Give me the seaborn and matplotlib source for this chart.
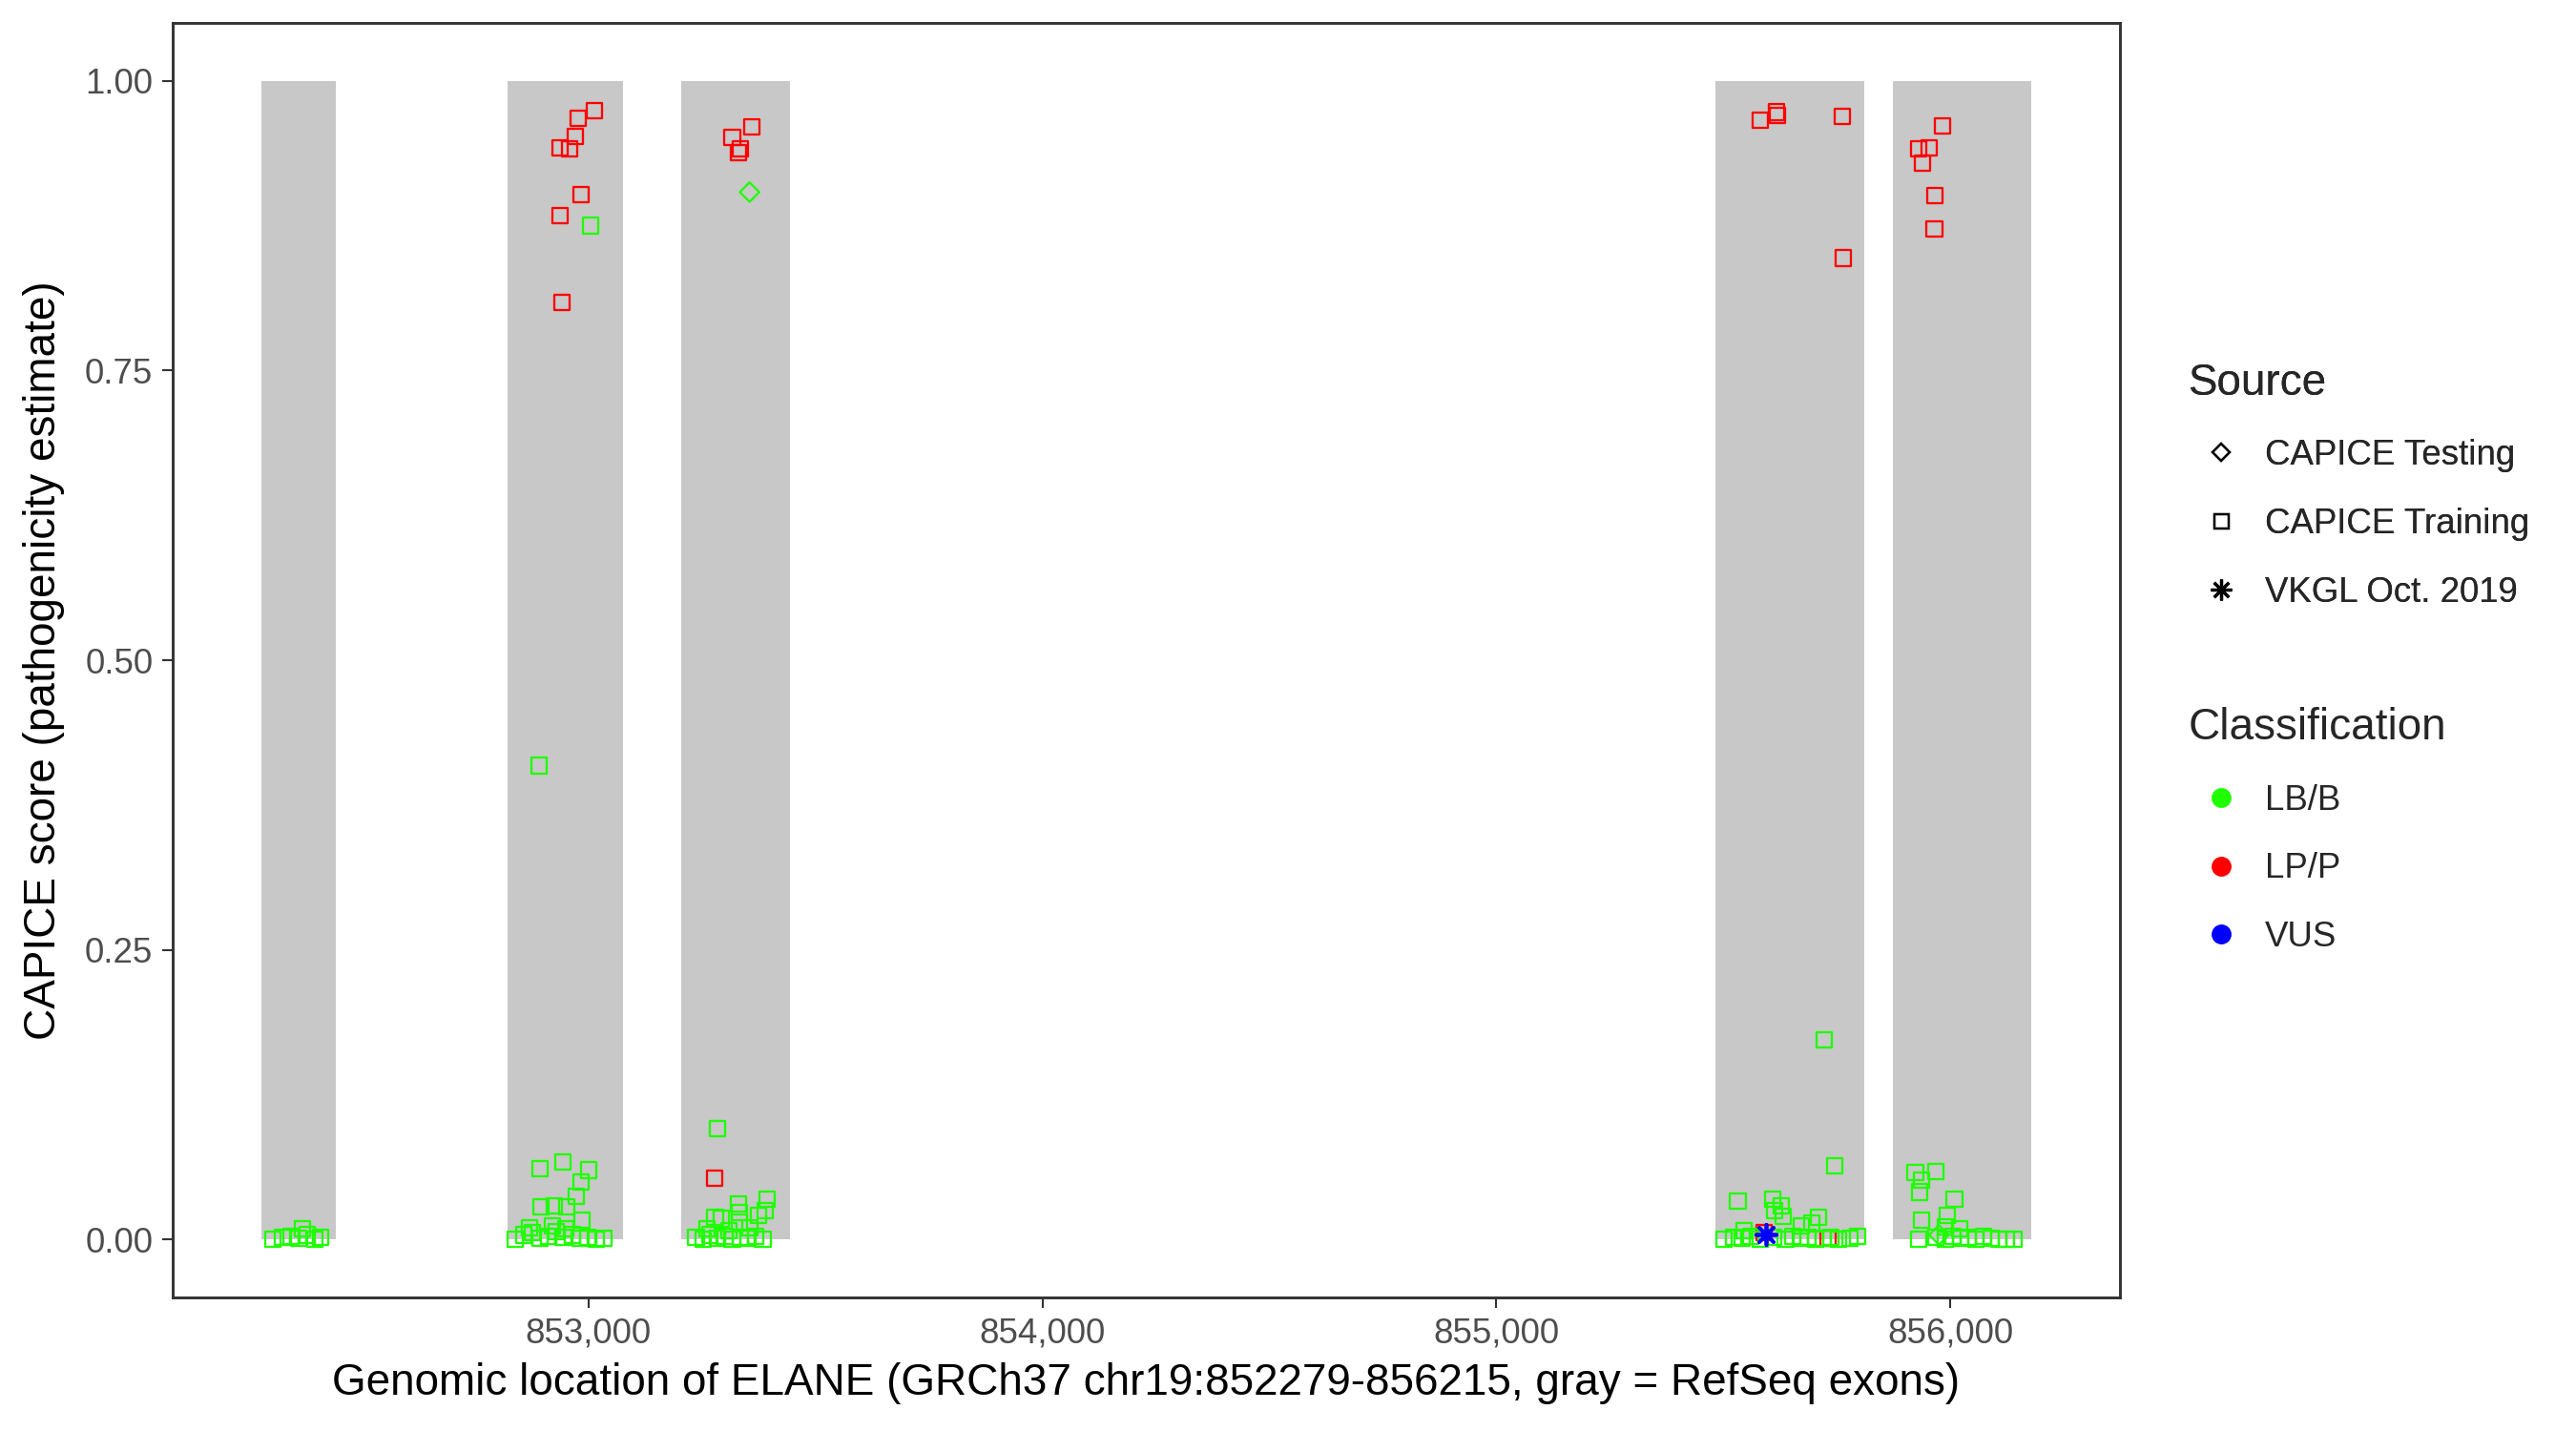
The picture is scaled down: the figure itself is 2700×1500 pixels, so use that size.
import matplotlib
matplotlib.use("Agg")
import matplotlib.pyplot as plt
from matplotlib.lines import Line2D
from matplotlib.ticker import FuncFormatter
import seaborn as sns
import pandas as pd

# ---------------- data ----------------
exon_start = [852279, 852821, 853204, 855483, 855874]
exon_end = [852443, 853076, 853443, 855811, 856179]

# CAPICE Training, LP/P
lp_pos = [853013, 852977, 852971, 852938, 852958, 852983, 852938, 852941,
          853360, 853317, 853335, 853331, 853278,
          855581, 855617, 855619, 855762, 855765, 855590, 855731,
          855983, 855930, 855953, 855939, 855966, 855965]
lp_score = [0.974, 0.968, 0.952, 0.942, 0.941, 0.902, 0.884, 0.809,
            0.960, 0.951, 0.941, 0.938, 0.053,
            0.966, 0.973, 0.970, 0.969, 0.847, 0.006, 0.001,
            0.961, 0.941, 0.942, 0.929, 0.901, 0.872]

# CAPICE Training, LB/B
lb_pos = [852305, 852326, 852345, 852361, 852370, 852380, 852397, 852410,
          853005, 852891, 852893, 852943, 853001, 852983, 852973, 852895, 852925,
          852952, 852986, 852838, 852857, 852876, 852893, 852912, 852929, 852945,
          852964, 852981, 852998, 853017, 853034, 852870, 852920, 852950,
          853284, 853331, 853393, 853389, 853375, 853333, 853279, 853293, 853332,
          853237, 853252, 853267, 853284, 853300, 853317, 853334, 853351, 853368,
          853384, 853262, 853310, 853356,
          855723, 855746, 855532, 855608, 855628, 855613, 855631, 855709, 855695,
          855545, 855671, 855502, 855523, 855542, 855561, 855582, 855611, 855637,
          855653, 855670, 855687, 855704, 855721, 855737, 855754, 855779, 855796,
          855923, 855968, 855937, 855933, 856009, 855936, 855994, 855989, 856020,
          855931, 855968, 855989, 856006, 856023, 856040, 856057, 856074, 856090,
          856107, 856124, 856141]
lb_score = [0.000, 0.002, 0.003, 0.001, 0.009, 0.004, 0.000, 0.002,
            0.875, 0.409, 0.061, 0.067, 0.060, 0.050, 0.037, 0.028, 0.029,
            0.028, 0.017, 0.000, 0.004, 0.006, 0.001, 0.003, 0.007, 0.002,
            0.004, 0.001, 0.002, 0.000, 0.001, 0.010, 0.012, 0.009,
            0.096, 0.031, 0.035, 0.025, 0.021, 0.023, 0.019, 0.018, 0.015,
            0.002, 0.000, 0.004, 0.001, 0.003, 0.000, 0.002, 0.001, 0.003,
            0.000, 0.009, 0.008, 0.010,
            0.172, 0.064, 0.033, 0.035, 0.029, 0.025, 0.020, 0.019, 0.014,
            0.008, 0.012, 0.000, 0.002, 0.001, 0.003, 0.000, 0.002, 0.000,
            0.003, 0.001, 0.002, 0.000, 0.001, 0.002, 0.000, 0.001, 0.003,
            0.058, 0.059, 0.051, 0.041, 0.035, 0.017, 0.021, 0.011, 0.009,
            0.000, 0.002, 0.000, 0.003, 0.001, 0.002, 0.000, 0.003, 0.001,
            0.000, 0.000, 0.000]

# CAPICE Testing, LB/B
test_pos = [853355, 855975]
test_score = [0.904, 0.004]

# VKGL Oct. 2019, VUS
vkgl_pos = [855594]
vkgl_score = [0.004]

source_labels = ["CAPICE Testing", "CAPICE Training", "VKGL Oct. 2019"]
class_labels = ["LB/B", "LP/P", "VUS"]
class_colors = {"LB/B": "#1FFF00", "LP/P": "#FF0000", "VUS": "#0000FF"}
source_markers = {"CAPICE Testing": "D", "CAPICE Training": "s", "VKGL Oct. 2019": (8, 2, 0)}

df = pd.concat([
    pd.DataFrame({"pos": lp_pos, "score": lp_score, "cls": "LP/P", "src": "CAPICE Training"}),
    pd.DataFrame({"pos": lb_pos, "score": lb_score, "cls": "LB/B", "src": "CAPICE Training"}),
    pd.DataFrame({"pos": test_pos, "score": test_score, "cls": "LB/B", "src": "CAPICE Testing"}),
    pd.DataFrame({"pos": vkgl_pos, "score": vkgl_score, "cls": "VUS", "src": "VKGL Oct. 2019"}),
], ignore_index=True)

# ---------------- plot ----------------
sns.set_theme(style="white")
plt.rcParams["font.family"] = ["Liberation Sans", "DejaVu Sans"]

fig = plt.figure(figsize=(9, 5), dpi=300)
ax = fig.add_axes([0.067, 0.0933, 0.756, 0.8907])

ax.bar(exon_start, [1.0] * len(exon_start),
       width=[e - s for s, e in zip(exon_start, exon_end)],
       bottom=0, align="edge", color="#C8C8C8", linewidth=0, zorder=1)

order = [("CAPICE Training", "LP/P"), ("CAPICE Training", "LB/B"),
         ("CAPICE Testing", "LB/B"), ("VKGL Oct. 2019", "VUS")]
for src, cls in order:
    sub = df[(df.src == src) & (df.cls == cls)]
    col = class_colors[cls]
    mk = source_markers[src]
    if src == "VKGL Oct. 2019":
        sns.scatterplot(data=sub, x="pos", y="score", ax=ax, marker=mk, color=col,
                        s=26, linewidth=0.9, zorder=3, legend=False)
    else:
        sns.scatterplot(data=sub, x="pos", y="score", ax=ax, marker=mk, color=col,
                        facecolor="none", edgecolor=col, s=15 if mk == "s" else 12,
                        linewidth=0.55, zorder=3, legend=False)

xmin, xmax = 852279, 856179
xr = xmax - xmin
ax.set_xlim(xmin - 0.05 * xr, xmax + 0.05 * xr)
ax.set_ylim(-0.05, 1.05)
ax.set_xticks([853000, 854000, 855000, 856000])
ax.xaxis.set_major_formatter(FuncFormatter(lambda v, p: f"{int(v):,}"))
ax.set_yticks([0, 0.25, 0.5, 0.75, 1.0])
ax.set_yticklabels(["0.00", "0.25", "0.50", "0.75", "1.00"])
ax.tick_params(axis="both", which="major", length=2.75, width=0.5, color="#333333",
               labelsize=8.8, labelcolor="#4D4D4D", pad=2.2, bottom=True, left=True)
for sp in ax.spines.values():
    sp.set_color("#333333")
    sp.set_linewidth(0.7)
ax.grid(False)
ax.set_xlabel("Genomic location of ELANE (GRCh37 chr19:852279-856215, gray = RefSeq exons)",
              fontsize=11, color="black", labelpad=3)
ax.set_ylabel("CAPICE score (pathogenicity estimate)", fontsize=11, color="black", labelpad=5)

# legends
src_handles = [
    Line2D([], [], linestyle="none", marker="D", markersize=3.2,
           markerfacecolor="none", markeredgecolor="black", markeredgewidth=0.55),
    Line2D([], [], linestyle="none", marker="s", markersize=3.6,
           markerfacecolor="none", markeredgecolor="black", markeredgewidth=0.55),
    Line2D([], [], linestyle="none", marker=(8, 2, 0), markersize=5.2,
           color="black", markeredgecolor="black", markeredgewidth=0.75),
]
cls_handles = [Line2D([], [], linestyle="none", marker="o", markersize=4.0,
                      markerfacecolor=class_colors[c], markeredgecolor=class_colors[c])
               for c in class_labels]

common = dict(loc="upper left", frameon=False, fontsize=8.8, title_fontsize=11,
              alignment="left", handlelength=1.85, handletextpad=0.35,
              labelspacing=1.0, borderpad=0, borderaxespad=0)
leg1 = fig.legend(src_handles, source_labels, title="Source",
                  bbox_to_anchor=(0.8495, 0.747), **common)
leg2 = fig.legend(cls_handles, class_labels, title="Classification",
                  bbox_to_anchor=(0.8495, 0.506), **common)
fig.add_artist(leg1)

fig.savefig("out.png", dpi=300)
